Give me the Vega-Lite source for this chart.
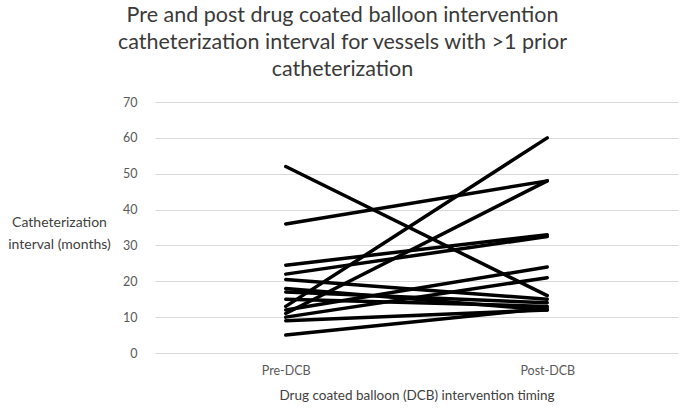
{
  "$schema": "https://vega.github.io/schema/vega-lite/v6.json",
  "autosize": "none",
  "width": 523,
  "height": 251,
  "padding": {"left": 155, "top": 102, "right": 7, "bottom": 56},
  "background": "white",
  "config": {"view": {"stroke": null}, "font": "Lato"},
  "title": {
    "text": ["Pre and post drug coated balloon intervention", "catheterization interval for vessels with >1 prior", "catheterization"],
    "fontSize": 21.5,
    "fontWeight": "normal",
    "color": "#3a3a3a",
    "lineHeight": 27,
    "anchor": "middle",
    "frame": "group",
    "dx": -74,
    "offset": 16,
    "font": "Lato"
  },
  "data": {
    "values": [
      {"id": 1, "timing": "Pre-DCB", "value": 52}, {"id": 1, "timing": "Post-DCB", "value": 16},
      {"id": 2, "timing": "Pre-DCB", "value": 36}, {"id": 2, "timing": "Post-DCB", "value": 48},
      {"id": 3, "timing": "Pre-DCB", "value": 24.5}, {"id": 3, "timing": "Post-DCB", "value": 33},
      {"id": 4, "timing": "Pre-DCB", "value": 22}, {"id": 4, "timing": "Post-DCB", "value": 32.5},
      {"id": 5, "timing": "Pre-DCB", "value": 13}, {"id": 5, "timing": "Post-DCB", "value": 60},
      {"id": 6, "timing": "Pre-DCB", "value": 11}, {"id": 6, "timing": "Post-DCB", "value": 48},
      {"id": 7, "timing": "Pre-DCB", "value": 20.5}, {"id": 7, "timing": "Post-DCB", "value": 15},
      {"id": 8, "timing": "Pre-DCB", "value": 18}, {"id": 8, "timing": "Post-DCB", "value": 12},
      {"id": 9, "timing": "Pre-DCB", "value": 15}, {"id": 9, "timing": "Post-DCB", "value": 13},
      {"id": 10, "timing": "Pre-DCB", "value": 12}, {"id": 10, "timing": "Post-DCB", "value": 24},
      {"id": 11, "timing": "Pre-DCB", "value": 10}, {"id": 11, "timing": "Post-DCB", "value": 21},
      {"id": 12, "timing": "Pre-DCB", "value": 9}, {"id": 12, "timing": "Post-DCB", "value": 12},
      {"id": 13, "timing": "Pre-DCB", "value": 5}, {"id": 13, "timing": "Post-DCB", "value": 12.5},
      {"id": 14, "timing": "Pre-DCB", "value": 17}, {"id": 14, "timing": "Post-DCB", "value": 14}
    ]
  },
  "mark": {"type": "line", "color": "black", "strokeWidth": 3.5, "strokeCap": "round"},
  "encoding": {
    "x": {
      "field": "timing",
      "type": "nominal",
      "sort": ["Pre-DCB", "Post-DCB"],
      "scale": {"type": "point", "padding": 0.5},
      "axis": {
        "title": "Drug coated balloon (DCB) intervention timing",
        "labelAngle": 0,
        "domain": false,
        "ticks": false,
        "labelPadding": 11,
        "labelFontSize": 12.5,
        "labelColor": "#595959",
        "labelFont": "Lato",
        "titleFont": "Lato",
        "titleFontSize": 13.5,
        "titleFontWeight": "normal",
        "titleColor": "#404040",
        "titlePadding": 12,
        "grid": false
      }
    },
    "y": {
      "field": "value",
      "type": "quantitative",
      "scale": {"domain": [0, 70], "nice": false},
      "axis": {
        "values": [0, 10, 20, 30, 40, 50, 60, 70],
        "title": ["Catheterization", "interval (months)"],
        "titleAngle": 0,
        "titleAlign": "center",
        "titleBaseline": "middle",
        "titleX": -96,
        "titleY": 120,
        "titleLineHeight": 22,
        "titleFont": "Lato",
        "titleFontSize": 14,
        "titleFontWeight": "normal",
        "titleColor": "#404040",
        "domain": false,
        "ticks": false,
        "labelPadding": 18,
        "labelFontSize": 12.5,
        "labelColor": "#595959",
        "labelFont": "Lato",
        "gridColor": "#d9d9d9",
        "gridWidth": 1
      }
    },
    "detail": {"field": "id", "type": "nominal"}
  }
}
